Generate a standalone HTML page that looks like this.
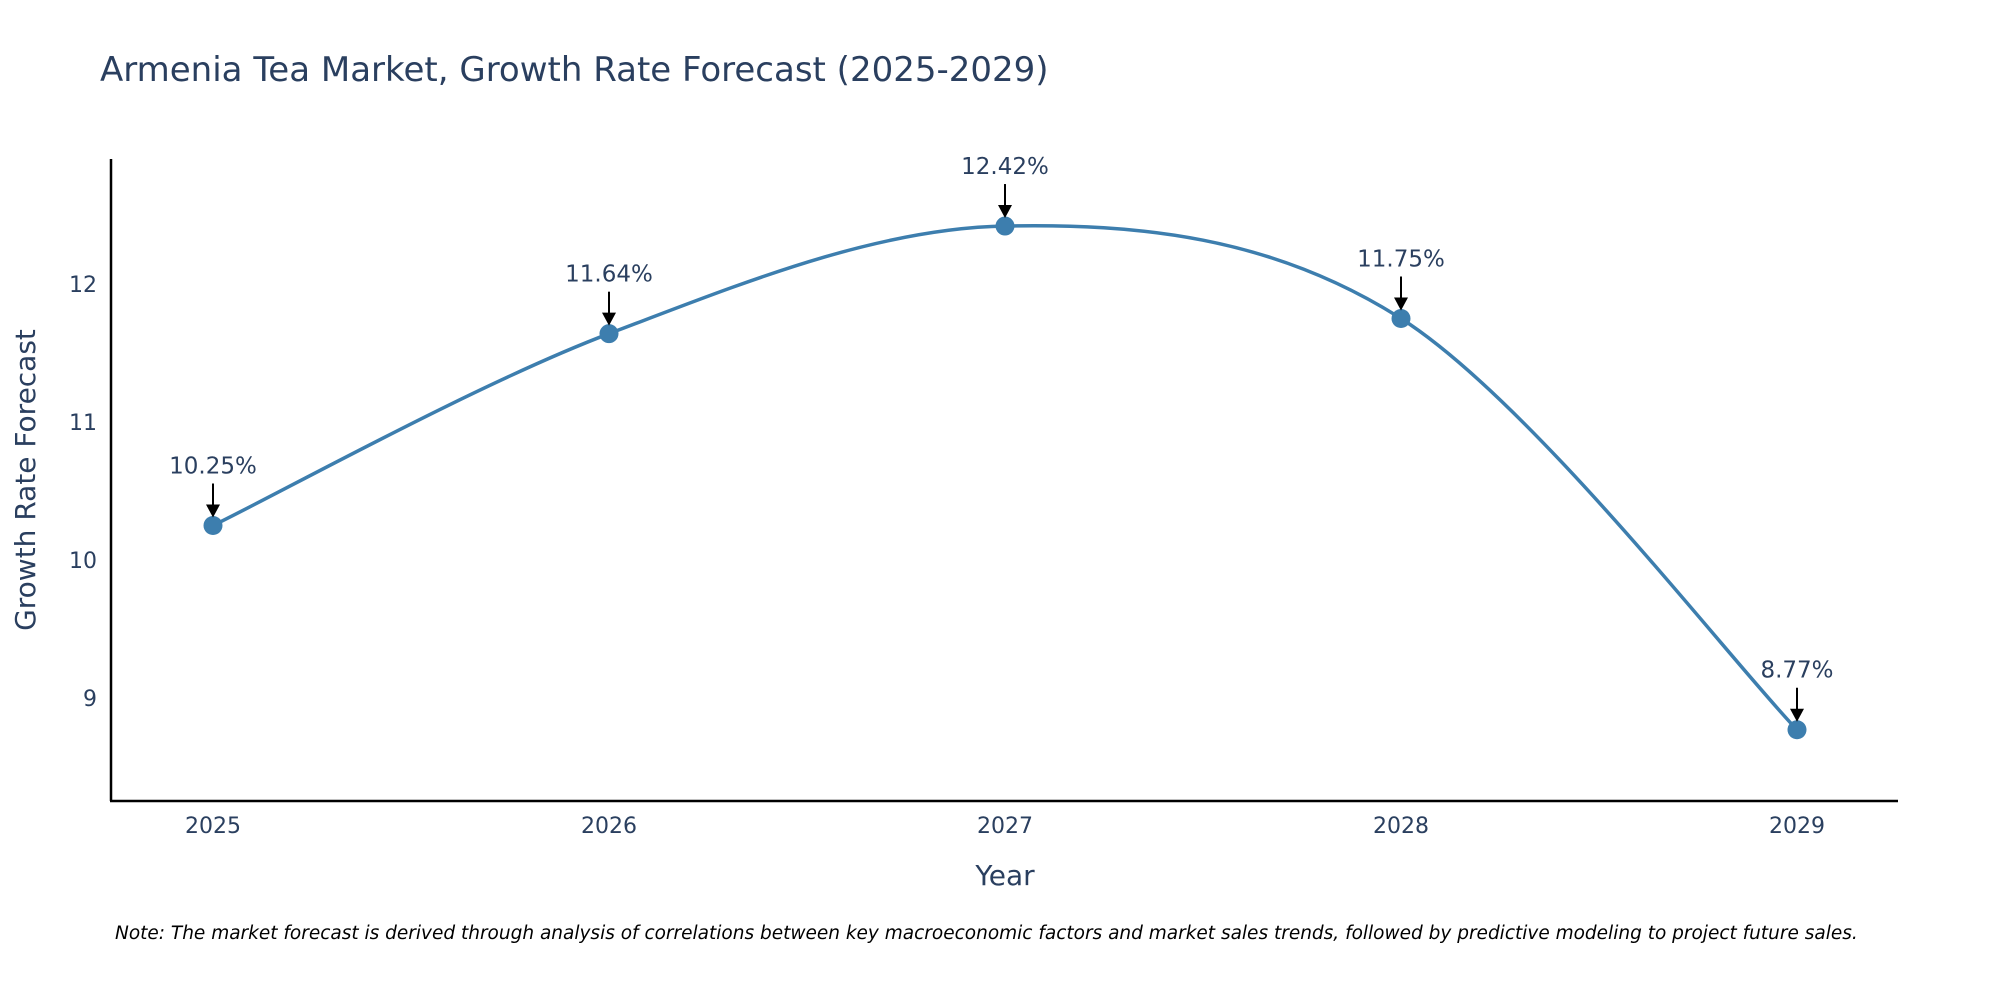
<!DOCTYPE html>
<html><head><meta charset="utf-8"><style>
body{margin:0;background:#fff;}
svg{display:block;font-family:"DejaVu Sans","Liberation Sans",sans-serif;}
</style></head><body>
<svg id="chart" width="2000" height="1000" viewBox="0 0 2000 1000">
<text x="100" y="81" font-size="34" fill="#2a3f5f">Armenia Tea Market, Growth Rate Forecast (2025-2029)</text>
<g id="yticks"></g>
<g id="xticks"></g>
<line x1="111" y1="159" x2="111" y2="801" stroke="#000" stroke-width="2.5"/>
<line x1="110" y1="801" x2="1898" y2="801" stroke="#000" stroke-width="2.5"/>
<text transform="translate(35,480) rotate(-90)" text-anchor="middle" font-size="28" fill="#2a3f5f">Growth Rate Forecast</text>
<text x="1005" y="885" text-anchor="middle" font-size="28" fill="#2a3f5f">Year</text>
<path id="line" fill="none" stroke="#3d7eae" stroke-width="3.5"/>
<g id="points"></g>
<g id="annots"></g>
<text x="115" y="939" font-size="18.5" font-style="italic" fill="#000">Note: The market forecast is derived through analysis of correlations between key macroeconomic factors and market sales trends, followed by predictive modeling to project future sales.</text>
</svg>
<script>
const years = [2025, 2026, 2027, 2028, 2029];
const growth = [10.25, 11.64, 12.42, 11.75, 8.77];
const yTickValues = [9, 10, 11, 12];
const NS = "http://www.w3.org/2000/svg";
function xs(v){ return 213 + (v - 2025) * 396; }
function ys(v){ return 698 - (v - 9) * 138; }
function mk(tag, attrs){ const e = document.createElementNS(NS, tag); for (const k in attrs) e.setAttribute(k, attrs[k]); return e; }
const yt = document.getElementById('yticks');
yTickValues.forEach(v => {
  const t = mk('text', {x: 97, y: ys(v) + 8, 'text-anchor': 'end', 'font-size': 22, fill: '#2a3f5f'});
  
  
  t.textContent = v; yt.appendChild(t);
});
const xt = document.getElementById('xticks');
years.forEach(v => {
  const t = mk('text', {x: xs(v), y: 833, 'text-anchor': 'middle', 'font-size': 22, fill: '#2a3f5f'});
  
  
  t.textContent = v; xt.appendChild(t);
});
const P = years.map((y, i) => [xs(y), ys(growth[i])]);
let d = `M${P[0][0]},${P[0][1]}`;
const s = 0.33;
for (let i = 0; i < P.length - 1; i++) {
  const p0 = P[Math.max(i - 1, 0)], p1 = P[i], p2 = P[i + 1], p3 = P[Math.min(i + 2, P.length - 1)];
  const c1 = [p1[0] + (p2[0] - p0[0]) * s / 2, p1[1] + (p2[1] - p0[1]) * s / 2];
  const c2 = [p2[0] - (p3[0] - p1[0]) * s / 2, p2[1] - (p3[1] - p1[1]) * s / 2];
  d += ` C${c1[0]},${c1[1]} ${c2[0]},${c2[1]} ${p2[0]},${p2[1]}`;
}
document.getElementById('line').setAttribute('d', d);
const pts = document.getElementById('points'), an = document.getElementById('annots');
P.forEach((p, i) => {
  const c = mk('circle', {cx: p[0], cy: p[1], r: 9.5, fill: '#3d7eae'});
  
  
  pts.appendChild(c);
  const l = mk('line', {x1: p[0], y1: p[1] - 42, x2: p[0], y2: p[1] - 20, stroke: '#000', 'stroke-width': 2});
  
  
  an.appendChild(l);
  const h = mk('polygon', {points: `${p[0]-7},${p[1]-21} ${p[0]+7},${p[1]-21} ${p[0]},${p[1]-8}`, fill: '#000'});
  
  
  an.appendChild(h);
  const t = mk('text', {x: p[0], y: p[1] - 52, 'text-anchor': 'middle', 'font-size': 23, fill: '#2a3f5f'});
  
  
  t.textContent = growth[i].toFixed(2) + '%'; an.appendChild(t);
});
</script>
</body></html>
